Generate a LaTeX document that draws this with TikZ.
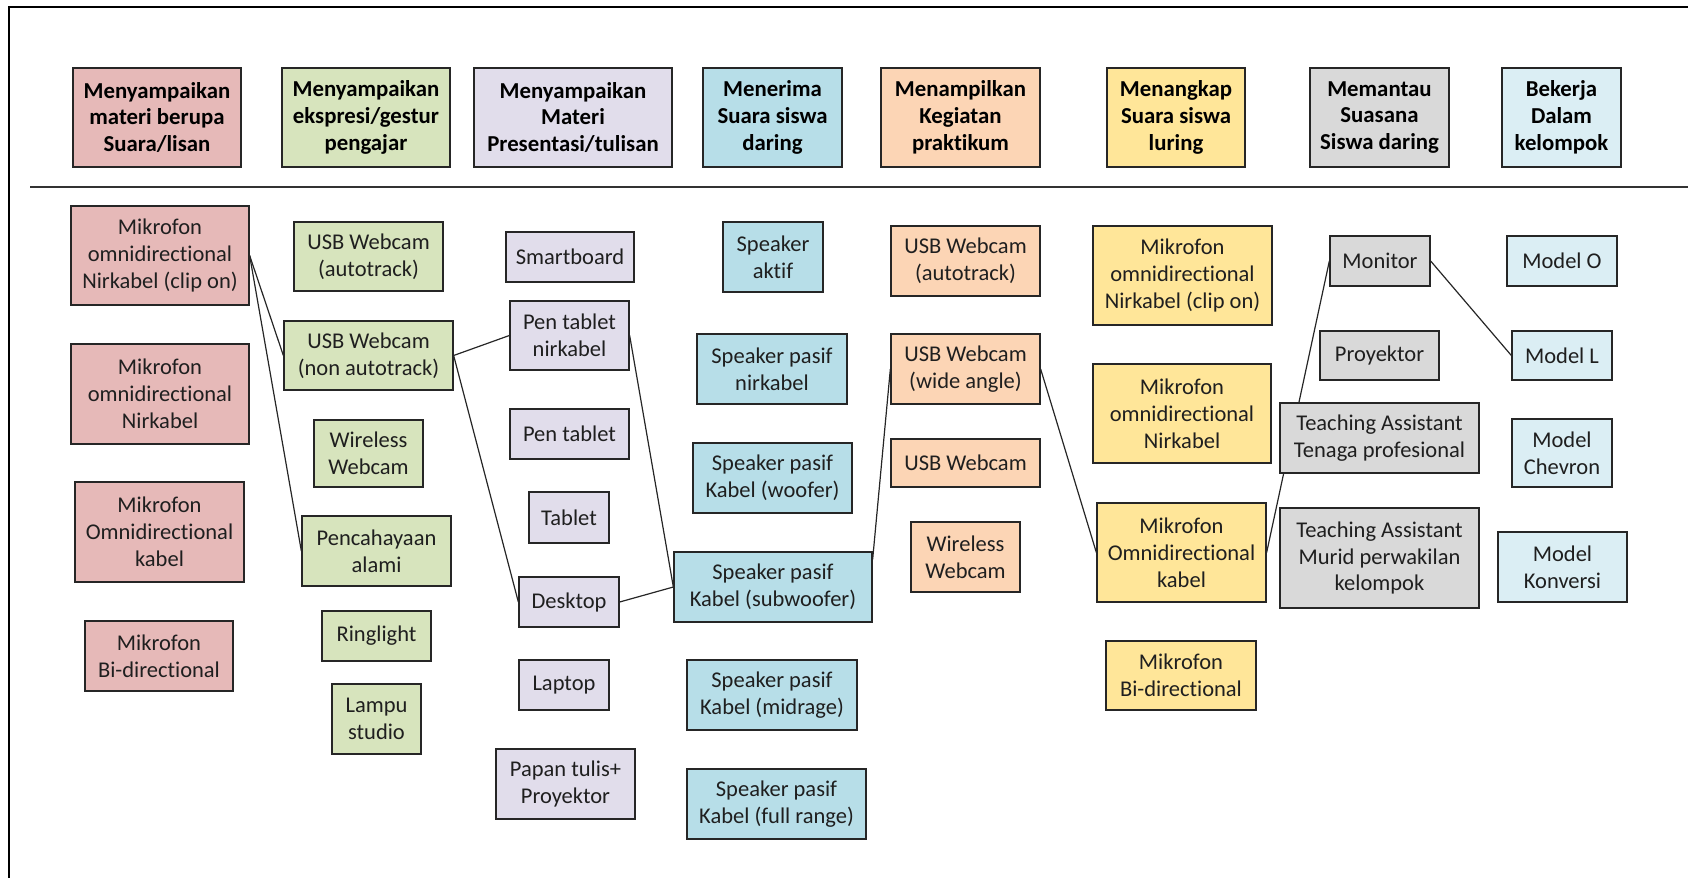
\documentclass[tikz,border=0pt]{standalone}
\usepackage{fontspec}
\setmainfont{Carlito}[Ligatures={NoCommon}]
\usetikzlibrary{backgrounds,calc}
\definecolor{cred}{HTML}{E6B9B8}
\definecolor{cgreen}{HTML}{D7E4BD}
\definecolor{cpurple}{HTML}{E1DDEB}
\definecolor{cblue}{HTML}{B7DEE8}
\definecolor{corange}{HTML}{FCD5B5}
\definecolor{cyellow}{HTML}{FFE699}
\definecolor{cgray}{HTML}{D9D9D9}
\definecolor{clblue}{HTML}{DBEEF4}
\newcommand\mybox[8]{\node[#1,fill=#3,minimum width={(#6-#4)*0.5pt},minimum height={(#7-#5)*0.5pt}] (#2) at ({(#4+#6)/2},{(#5+#7)/2}) {#8};}
\begin{document}
\begin{tikzpicture}[x=0.5pt,y=-0.5pt,
  box/.style={draw=black!85,line width=0.65pt,inner sep=0pt,align=center,
    font=\fontsize{11.25}{13.4}\selectfont,text=black!88},
  head/.style={box,font=\fontsize{11.4}{13.4}\selectfont\bfseries,text=black},
  conn/.style={line width=0.6pt,draw=black!85}]
\useasboundingbox (0,0) rectangle (1688,878);
% frame and separator
\draw[line width=1pt] (9,878) -- (9,7) -- (1688,7);
\draw[line width=0.7pt,black!80] (30,187) -- (1688,187);
% headers
\mybox{head}{h1}{cred}{73}{68}{241}{167}{Menyampaikan\\materi berupa\\Suara/lisan}
\mybox{head}{h2}{cgreen}{282}{68}{450}{167}{Menyampaikan\\ekspresi/gestur\\pengajar}
\mybox{head}{h3}{cpurple}{474}{68}{672}{167}{Menyampaikan\\Materi\\Presentasi/tulisan}
\mybox{head}{h4}{cblue}{703}{68}{842}{167}{Menerima\\Suara siswa\\daring}
\mybox{head}{h5}{corange}{881}{68}{1040}{167}{Menampilkan\\Kegiatan\\praktikum}
\mybox{head}{h6}{cyellow}{1107}{68}{1245}{167}{Menangkap\\Suara siswa\\luring}
\mybox{head}{h7}{cgray}{1310}{68}{1449}{167}{Memantau\\Suasana\\Siswa daring}
\mybox{head}{h8}{clblue}{1502}{68}{1621}{167}{Bekerja\\Dalam\\kelompok}
% red
\mybox{box}{r1}{cred}{71}{206}{249}{305}{Mikrofon\\omnidirectional\\Nirkabel (clip on)}
\mybox{box}{r2}{cred}{71}{344}{249}{444}{Mikrofon\\omnidirectional\\Nirkabel}
\mybox{box}{r3}{cred}{75}{482}{244}{582}{Mikrofon\\Omnidirectional\\kabel}
\mybox{box}{r4}{cred}{85}{621}{233}{691}{Mikrofon\\Bi-directional}
% green
\mybox{box}{g1}{cgreen}{294}{222}{443}{291}{USB Webcam\\(autotrack)}
\mybox{box}{g2}{cgreen}{284}{321}{453}{390}{USB Webcam\\(non autotrack)}
\mybox{box}{g3}{cgreen}{314}{420}{423}{487}{Wireless\\Webcam}
\mybox{box}{g4}{cgreen}{302}{516}{451}{586}{Pencahayaan\\alami}
\mybox{box}{g5}{cgreen}{322}{611}{431}{661}{Ringlight}
\mybox{box}{g6}{cgreen}{332}{684}{421}{754}{Lampu\\studio}
% purple
\mybox{box}{p1}{cpurple}{506}{232}{634}{282}{Smartboard}
\mybox{box}{p2}{cpurple}{510}{301}{629}{370}{Pen tablet\\nirkabel}
\mybox{box}{p3}{cpurple}{510}{409}{629}{459}{Pen tablet}
\mybox{box}{p4}{cpurple}{529}{492}{609}{543}{Tablet}
\mybox{box}{p5}{cpurple}{519}{577}{619}{627}{Desktop}
\mybox{box}{p6}{cpurple}{519}{660}{609}{710}{Laptop}
\mybox{box}{p7}{cpurple}{496}{749}{635}{819}{Papan tulis+\\Proyektor}
% blue
\mybox{box}{b1}{cblue}{723}{222}{823}{292}{Speaker\\aktif}
\mybox{box}{b2}{cblue}{697}{334}{847}{404}{Speaker pasif\\nirkabel}
\mybox{box}{b3}{cblue}{693}{443}{852}{513}{Speaker pasif\\Kabel (woofer)}
\mybox{box}{b4}{cblue}{674}{552}{872}{622}{Speaker pasif\\Kabel (subwoofer)}
\mybox{box}{b5}{cblue}{687}{660}{857}{730}{Speaker pasif\\Kabel (midrage)}
\mybox{box}{b6}{cblue}{687}{769}{866}{839}{Speaker pasif\\Kabel (full range)}
% orange
\mybox{box}{o1}{corange}{891}{226}{1040}{296}{USB Webcam\\(autotrack)}
\mybox{box}{o2}{corange}{891}{334}{1040}{404}{USB Webcam\\(wide angle)}
\mybox{box}{o3}{corange}{891}{439}{1040}{487}{USB Webcam}
\mybox{box}{o4}{corange}{911}{522}{1020}{592}{Wireless\\Webcam}
% yellow
\mybox{box}{y1}{cyellow}{1093}{226}{1272}{325}{Mikrofon\\omnidirectional\\Nirkabel (clip on)}
\mybox{box}{y2}{cyellow}{1093}{364}{1271}{463}{Mikrofon\\omnidirectional\\Nirkabel}
\mybox{box}{y3}{cyellow}{1097}{503}{1266}{602}{Mikrofon\\Omnidirectional\\kabel}
\mybox{box}{y4}{cyellow}{1106}{641}{1256}{710}{Mikrofon\\Bi-directional}
% gray
\mybox{box}{k1}{cgray}{1330}{236}{1430}{286}{Monitor}
\mybox{box}{k2}{cgray}{1320}{331}{1439}{380}{Proyektor}
\mybox{box}{k3}{cgray}{1280}{403}{1479}{473}{Teaching Assistant\\Tenaga profesional}
\mybox{box}{k4}{cgray}{1280}{508}{1479}{608}{Teaching Assistant\\Murid perwakilan\\kelompok}
% light blue
\mybox{box}{l1}{clblue}{1507}{236}{1617}{286}{Model O}
\mybox{box}{l2}{clblue}{1512}{331}{1612}{380}{Model L}
\mybox{box}{l3}{clblue}{1512}{419}{1612}{487}{Model\\Chevron}
\mybox{box}{l4}{clblue}{1498}{532}{1627}{602}{Model\\Konversi}
% connectors
\begin{scope}[on background layer]
\draw[conn] (r1.east) -- (g2.west);
\draw[conn] (r1.east) -- (g4.west);
\draw[conn] (g2.east) -- (p2.west);
\draw[conn] (g2.east) -- (p5.west);
\draw[conn] (p2.east) -- (b4.west);
\draw[conn] (p5.east) -- (b4.west);
\draw[conn] ($(b4.north east)+(0,8)$) -- (o2.west);
\draw[conn] (o2.east) -- (y3.west);
\draw[conn] (y3.east) -- (k1.west);
\draw[conn] (k1.east) -- (l2.west);
\end{scope}
\end{tikzpicture}
\end{document}
